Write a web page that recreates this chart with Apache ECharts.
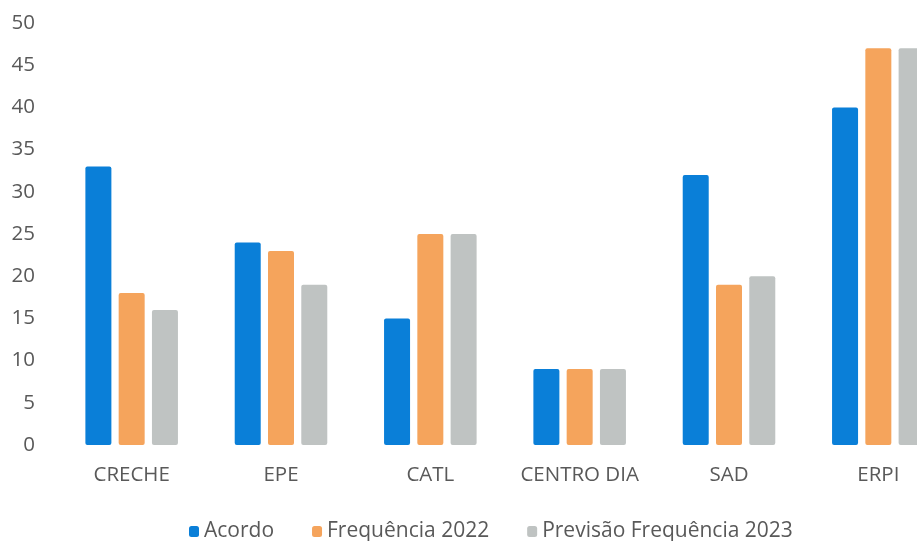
<!DOCTYPE html>
<html>
<head>
<meta charset="utf-8">
<script src="https://cdn.jsdelivr.net/npm/echarts@6/dist/echarts.min.js"></script>
<style>
  html, body { margin: 0; padding: 0; background: #fff; overflow: hidden; }
  #chart { width: 917px; height: 541px; }
</style>
</head>
<body>
<div id="chart"></div>
<script>
const categories = ['CRECHE', 'EPE', 'CATL', 'CENTRO DIA', 'SAD', 'ERPI']
const acordo = [33, 24, 15, 9, 32, 40]
const freq2022 = [18, 23, 25, 9, 19, 47]
const prev2023 = [16, 19, 25, 9, 20, 47]
const yTicks = [0, 5, 10, 15, 20, 25, 30, 35, 40, 45, 50]

const font = 'Open Sans'
const chart = echarts.init(document.getElementById('chart'))

const barStyle = (color) => ({ color: color, borderRadius: 2 })

chart.setOption({
    animation: false,
    textStyle: { fontFamily: font },
    grid: { left: 57, width: 896, top: 23, bottom: 96, outerBoundsMode: 'none' },
    legend: {
        top: 516,
        left: 184,
        itemWidth: 10,
        itemHeight: 11,
        itemGap: 38,
        icon: 'roundRect',
        textStyle: { fontSize: 21, color: '#595959', fontFamily: font },
        data: ['Acordo', 'Frequência 2022', 'Previsão Frequência 2023']
    },
    xAxis: {
        type: 'category',
        data: categories,
        axisLine: { show: false },
        axisTick: { show: false },
        axisLabel: { color: '#595959', fontSize: 20.5, margin: 20, interval: 0, hideOverlap: false }
    },
    yAxis: {
        type: 'value',
        min: yTicks[0],
        max: yTicks[yTicks.length - 1],
        interval: 5,
        splitLine: { show: false },
        axisLine: { show: false },
        axisTick: { show: false },
        axisLabel: { color: '#595959', fontSize: 20.5, margin: 22 }
    },
    series: [
        { name: 'Acordo', type: 'bar', data: acordo, barWidth: 26, barGap: '28%', itemStyle: barStyle('#0a7fd8') },
        { name: 'Frequência 2022', type: 'bar', data: freq2022, barWidth: 26, barGap: '28%', itemStyle: barStyle('#f5a45c') },
        { name: 'Previsão Frequência 2023', type: 'bar', data: prev2023, barWidth: 26, barGap: '28%', itemStyle: barStyle('#bfc3c2') }
    ]
})
</script>
</body>
</html>
